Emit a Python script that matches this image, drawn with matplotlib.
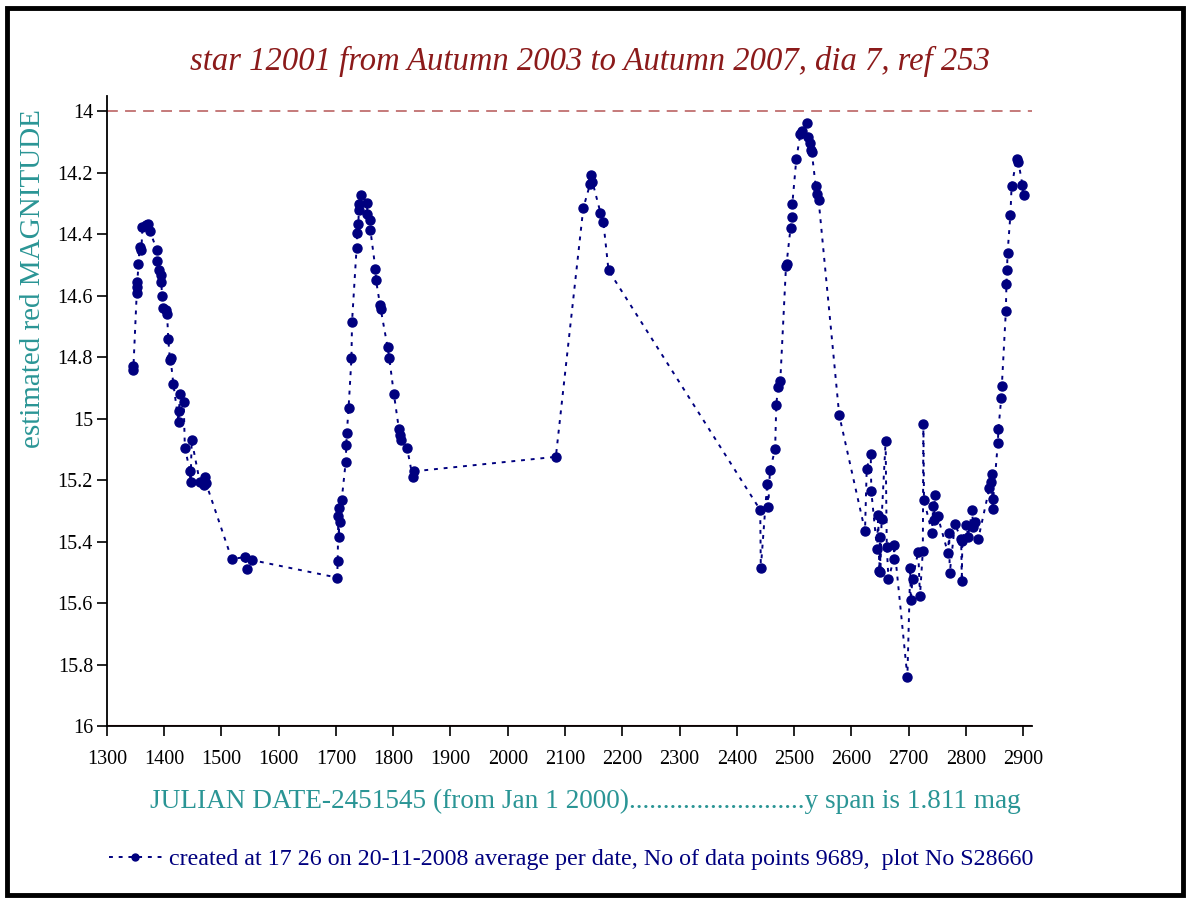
import matplotlib
matplotlib.use('Agg')
import matplotlib.pyplot as plt
from matplotlib.patches import Rectangle
from matplotlib.lines import Line2D
import numpy as np

# days since JD 2451545 and the estimated red magnitude on that day
days = [1345, 1346, 1352, 1352, 1353, 1355, 1357, 1360, 1362, 1368, 1372, 1375,
        1387, 1388, 1391, 1394, 1395, 1396, 1398, 1403, 1405, 1407, 1410, 1411,
        1416, 1425, 1426, 1427, 1434, 1436, 1445, 1446, 1448, 1462, 1469, 1471,
        1473, 1518, 1541, 1544, 1553,
        1702, 1703, 1704, 1705, 1706, 1707, 1710, 1717, 1718, 1719, 1722, 1727,
        1728, 1736, 1737, 1739, 1740, 1741, 1744, 1754, 1755, 1759, 1760, 1769,
        1770, 1777, 1778, 1790, 1793, 1801, 1810, 1812, 1813, 1824, 1834, 1837,
        2084, 2132, 2144, 2146, 2148, 2162, 2167, 2176,
        2441, 2442, 2453, 2455, 2458, 2467, 2469, 2472, 2476, 2486, 2487, 2494,
        2496, 2497, 2504, 2511, 2514, 2522, 2525, 2528, 2530, 2531, 2538, 2541,
        2543, 2579,
        2624, 2627, 2634, 2635, 2645, 2647, 2649, 2650, 2651, 2653, 2660, 2662,
        2665, 2674, 2675, 2698, 2703, 2704, 2707, 2717, 2720, 2725, 2726, 2727,
        2741, 2743, 2745, 2746, 2751, 2769, 2771, 2772, 2781, 2792, 2793, 2794,
        2801, 2804, 2811, 2813, 2816, 2822, 2841, 2844, 2845, 2847, 2848, 2856,
        2857, 2862, 2863, 2870, 2871, 2872, 2873, 2878, 2880, 2889, 2892, 2899,
        2901]
mags = [14.83, 14.84, 14.59, 14.57, 14.555, 14.495, 14.44, 14.45, 14.376, 14.37, 14.365, 14.39,
        14.45, 14.487, 14.515, 14.533, 14.555, 14.60, 14.64, 14.647, 14.66, 14.74, 14.81, 14.804,
        14.888, 15.01, 14.975, 14.92, 14.945, 15.095, 15.17, 15.205, 15.07, 15.205, 15.215, 15.19,
        15.21, 15.457, 15.45, 15.49, 15.46,
        15.517, 15.462, 15.317, 15.384, 15.292, 15.336, 15.263, 15.14, 15.086, 15.045, 14.964, 14.804,
        14.685, 14.444, 14.396, 14.365, 14.322, 14.30, 14.273, 14.297, 14.333, 14.355, 14.385, 14.514,
        14.55, 14.631, 14.642, 14.766, 14.802, 14.918, 15.035, 15.054, 15.068, 15.094, 15.191, 15.171,
        15.124, 14.314, 14.235, 14.208, 14.23, 14.33, 14.36, 14.517,
        15.297, 15.487, 15.211, 15.287, 15.167, 15.1, 14.956, 14.897, 14.878, 14.504, 14.495, 14.378,
        14.345, 14.302, 14.156, 14.073, 14.064, 14.038, 14.083, 14.103, 14.127, 14.132, 14.244, 14.268,
        14.289, 14.989,
        15.365, 15.163, 15.114, 15.236, 15.425, 15.314, 15.495, 15.386, 15.498, 15.325, 15.073, 15.417,
        15.522, 15.458, 15.411, 15.84, 15.487, 15.59, 15.52, 15.433, 15.577, 15.43, 15.018, 15.265,
        15.371, 15.285, 15.33, 15.249, 15.317, 15.438, 15.371, 15.503, 15.342, 15.392, 15.528, 15.398,
        15.346, 15.384, 15.298, 15.352, 15.336, 15.39, 15.227, 15.205, 15.18, 15.293, 15.26, 15.078,
        15.035, 14.932, 14.893, 14.65, 14.563, 14.517, 14.46, 14.336, 14.244, 14.154, 14.165, 14.24,
        14.273]

xticks = list(range(1300, 3000, 100))
yticks = [14, 14.2, 14.4, 14.6, 14.8, 15, 15.2, 15.4, 15.6, 15.8, 16]

title = "star 12001 from Autumn 2003 to Autumn 2007, dia 7, ref 253"
xlabel = "JULIAN DATE-2451545 (from Jan 1 2000)..........................y span is 1.811 mag"
ylabel = "estimated red MAGNITUDE"
footer = "created at 17 26 on 20-11-2008 average per date, No of data points 9689,  plot No S28660"

serif = ['Liberation Serif', 'DejaVu Serif']
navy = '#00007f'
teal = '#2a9595'

fig = plt.figure(figsize=(11.9, 9), dpi=100)
ax = fig.add_axes([0.0899, 0.1933, 0.777, 0.7])

ax.axhline(14, color='#c07070', lw=1.3, ls=(0, (6, 4)), zorder=1)
ax.axhline(16, color='#8b1a1a', lw=1.5, zorder=1)
line, = ax.plot(days, mags, ls=(0, (2, 3)), lw=1.4, color=navy,
                marker='o', ms=6.5, mec=navy, mfc=navy, zorder=3)

ax.set_xlim(1300, 2915)
ax.set_ylim(16, 13.95)
ax.set_xticks(xticks)
ax.set_yticks(yticks)
ax.set_yticklabels(['%g' % v for v in yticks])
for s in ['top', 'right']:
    ax.spines[s].set_visible(False)
for s in ['left', 'bottom']:
    ax.spines[s].set_linewidth(1.3)
ax.tick_params(direction='out', length=7, width=1.2, labelsize=14.5)
for lab in ax.get_xticklabels() + ax.get_yticklabels():
    lab.set_family(serif)
ax.tick_params(axis='x', pad=10)
ax.tick_params(axis='y', pad=3)

fig.text(0.496, 0.932, title, ha='center', va='center', fontsize=23.5,
         style='italic', color='#8b1a1a', family=serif)
fig.text(0.028, 0.69, ylabel, ha='center', va='center', rotation=90,
         fontsize=21, color=teal, family=serif)
fig.text(0.492, 0.109, xlabel, ha='center', va='center', fontsize=19.6,
         color=teal, family=serif)

h = Line2D([], [], ls=(0, (2, 3)), lw=1.4, color=navy, marker='o', ms=5)
leg = fig.legend([h], [footer], loc='center', bbox_to_anchor=(0.48, 0.045),
                 frameon=False, handlelength=2.2, handletextpad=0.3,
                 prop={'family': serif, 'size': 17.3})
for t in leg.get_texts():
    t.set_color(navy)

fig.patches.append(Rectangle((0.006, 0.006), 0.988, 0.985, transform=fig.transFigure,
                             fill=False, lw=3.5, color='black'))

fig.savefig('out.png', dpi=100, facecolor='white')
